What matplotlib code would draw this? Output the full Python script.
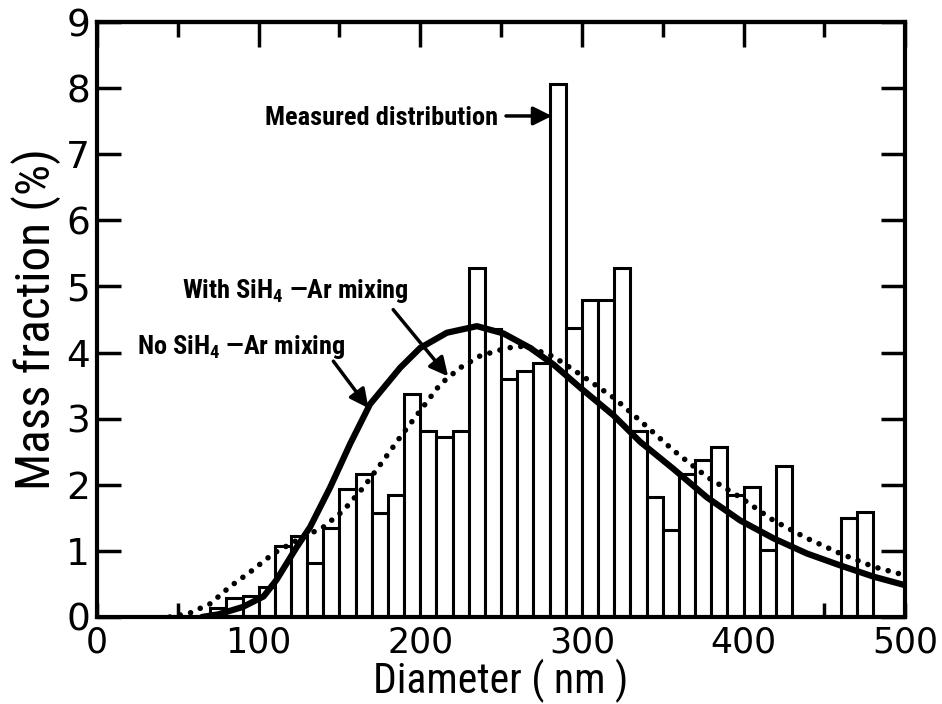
"""
mass fraction vs particle diameter: measured histogram + two model curves
"""
import matplotlib.pyplot as plt
from matplotlib import font_manager

plt.rcParams['font.family'] = ['DejaVu Sans']

# pick a narrow face if one exists, otherwise fall back to condensed DejaVu
names = {f.name for f in font_manager.fontManager.ttflist}
narrow = next((n for n in ['Liberation Sans Narrow', 'Roboto Condensed',
                           'Open Sans Condensed', 'Noto Sans Display']
               if n in names), 'DejaVu Sans')

plt.rcParams['mathtext.fontset'] = 'custom'
plt.rcParams['mathtext.rm'] = f'{narrow}:bold'
plt.rcParams['mathtext.default'] = 'rm'

# measured distribution, 10 nm bins (left edges)
bin_left = list(range(70, 480, 10))
mass = [0.13, 0.28, 0.32, 0.45, 1.08, 1.22, 0.82, 1.35, 1.94, 2.17,
        1.57, 1.85, 3.37, 2.82, 2.73, 2.82, 5.28, 4.35, 3.60, 3.72,
        3.85, 8.07, 4.37, 4.80, 4.80, 5.28, 2.82, 1.82, 1.31, 2.17,
        2.37, 2.57, 1.84, 1.97, 1.02, 2.28, 0.0, 0.0, 0.0, 1.49,
        1.59]

# with SiH4-Ar mixing (solid)
with_d = [65, 75, 90, 103, 111, 123.6, 131.8, 144.2, 156.6, 168.9, 187.5, 199.9,
          216.4, 235, 251.4, 268, 282.4, 298.9, 319.5, 336, 356.6, 377.3,
          397.9, 418.5, 439.2, 459.8, 480.4, 500]
with_m = [0.0, 0.04, 0.15, 0.31, 0.56, 1.06, 1.36, 1.96, 2.62, 3.22, 3.77, 4.07,
          4.30, 4.40, 4.29, 4.07, 3.82, 3.47, 3.05, 2.65, 2.24, 1.81,
          1.46, 1.19, 0.96, 0.78, 0.61, 0.48]

# no SiH4-Ar mixing (dotted)
no_d = [45, 57.5, 70, 82.3, 94.7, 109.1, 123.6, 140, 152.4, 164.8, 177.2, 187.5,
        199.9, 212.3, 224.6, 237, 253.5, 265, 282.4, 298.9, 319.5, 336,
        356.6, 377.3, 397.9, 418.5, 439.2, 459.8, 480.4, 500]
no_m = [0.0, 0.06, 0.2, 0.46, 0.68, 0.96, 1.16, 1.36, 1.61, 1.96, 2.37, 2.72,
        3.12, 3.52, 3.77, 3.95, 4.07, 4.1, 3.94, 3.67, 3.32, 2.97,
        2.52, 2.12, 1.81, 1.46, 1.19, 0.96, 0.76, 0.63]

x_ticks = [0, 100, 200, 300, 400, 500]
y_ticks = list(range(0, 10))

fig = plt.figure(figsize=(9.42, 7.04), dpi=100)
ax = fig.add_axes([0.103, 0.1236, 0.858, 0.845])

ax.bar(bin_left, mass, width=10, align='edge', facecolor='white',
       edgecolor='black', linewidth=2.2, zorder=2)
ax.plot(with_d, with_m, color='black', lw=4.5, solid_capstyle='round', zorder=3)
ax.plot(no_d, no_m, color='black', lw=4, linestyle=(0, (0.01, 1.9)),
        dash_capstyle='round', zorder=3)

ax.set_xlim(0, 500)
ax.set_ylim(0, 9)
for s in ax.spines.values():
    s.set_linewidth(3)
    s.set_zorder(5)

ax.set_xticks(x_ticks)
ax.set_xticks(range(50, 500, 100), minor=True)
ax.set_yticks(y_ticks)
ax.tick_params(axis='x', which='both', direction='in', length=10, width=2.5,
               labelsize=25, pad=6)
ax.tick_params(axis='y', which='major', direction='in', length=17, width=2.5,
               labelsize=27, pad=5, right=True)

# top axis ticks: long at 100s, short at 50s
top = ax.secondary_xaxis('top')
top.set_xticks(x_ticks)
top.set_xticks(range(50, 500, 100), minor=True)
top.tick_params(which='major', direction='in', length=18, width=2.5, labeltop=False)
top.tick_params(which='minor', direction='in', length=11, width=2.5)
top.spines['top'].set_linewidth(3)

ax.set_xlabel('Diameter ( nm )', family=narrow, stretch='condensed',
              fontsize=30, labelpad=0)
ax.set_ylabel('Mass fraction (%)', family=narrow, stretch='condensed',
              fontsize=35.5, labelpad=4)

# annotations
txt = dict(family=narrow, stretch='condensed', weight='bold', fontsize=19,
           ha='left', va='baseline')
arrow = dict(arrowstyle='-|>', color='black', lw=2.5, mutation_scale=28,
             shrinkA=0, shrinkB=0)
ax.text(104, 7.45, 'Measured distribution', **txt)
ax.annotate('', xy=(281.4, 7.58), xytext=(253, 7.58), arrowprops=arrow)

ax.text(52.4, 4.83, 'With SiH$_4$ \u2014Ar mixing', **txt)
ax.annotate('', xy=(217.2, 3.64), xytext=(183.2, 4.65), arrowprops=arrow)

ax.text(24.6, 3.98, 'No SiH$_4$ \u2014Ar mixing', **txt)
ax.annotate('', xy=(167.9, 3.16), xytext=(146.2, 3.87), arrowprops=arrow)

plt.savefig('out.png', dpi=100)
